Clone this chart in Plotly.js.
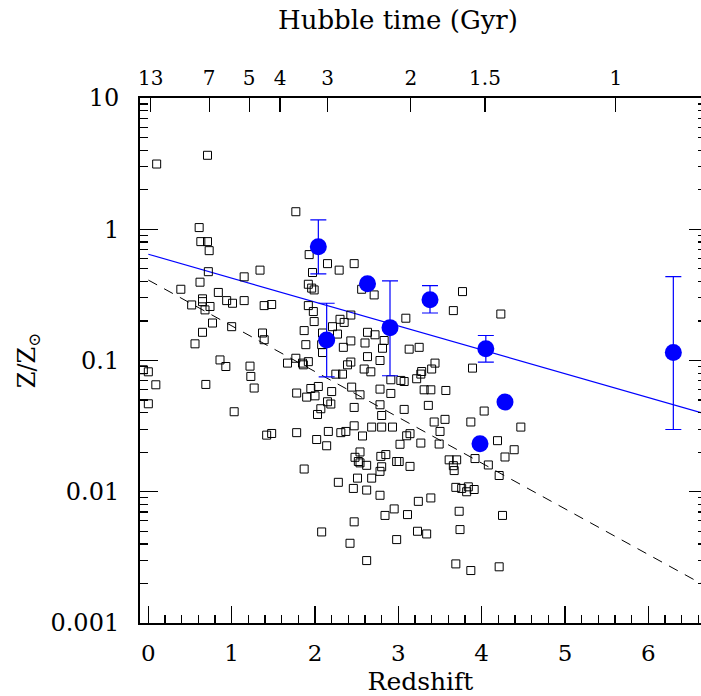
<!DOCTYPE html>
<html><head><meta charset="utf-8">
<script src="https://cdn.plot.ly/plotly-3.0.1.min.js"></script>
<style>html,body{margin:0;padding:0;background:#fff}</style>
</head><body><div id="chart" style="width:701px;height:696px"></div>
<script>
// Comparison sample (open squares)
const sampleZ = [0.10,0.71,1.77,0.61,0.63,0.71,0.73,1.93,2.15,2.29,2.47,1.97,0.72,1.34,1.15,0.62,1.92,1.96,0.39,
 0.84,1.99,2.56,2.71,0.52,0.65,0.65,0.74,0.68,0.94,1.01,1.15,1.39,1.48,1.92,1.98,1.99,0.77,0.65,1.00,0.56,1.37,1.39,1.87,2.21,2.30,2.35,2.43,2.09,2.27,2.63,2.72,2.83,2.43,2.34,2.60,2.81,1.89,2.08,2.09,3.09,3.13,
 0.86,0.93,1.22,1.23,1.27,0.69,-0.06,0.00,0.09,0.00,1.03,1.67,1.77,1.85,1.86,1.92,2.25,2.33,2.39,2.43,2.63,2.59,2.67,2.78,2.91,3.03,3.07,
 1.78,1.90,1.95,2.00,2.04,2.20,2.15,2.19,2.07,2.03,2.44,2.54,2.47,2.78,2.91,2.78,2.80,3.07,2.47,2.37,2.31,2.57,2.68,2.80,2.93,3.10,3.14,2.16,2.02,2.14,1.78,1.42,1.48,3.02,
 2.54,2.48,2.52,2.54,2.62,2.79,2.85,2.80,2.78,2.98,3.01,1.87,
 2.28,2.51,2.68,2.46,2.62,2.78,2.95,2.84,3.11,2.47,2.08,2.42,2.98,2.62,
 3.77,3.66,4.23,3.25,3.44,3.40,3.28,3.27,3.22,3.31,3.39,3.57,3.89,3.36,4.03,3.43,3.56,3.87,4.47,3.50,3.27,3.49,4.19,4.39,4.28,3.92,3.61,3.70,3.66,3.67,4.08,4.21,3.14,
 3.69,3.76,3.84,3.82,3.91,3.24,3.39,3.73,4.25,3.23,3.34,3.74,3.69,3.87,4.21];
const sampleMetal = [3.14,3.66,1.36,1.03,0.805,0.805,0.687,0.641,0.547,0.488,0.547,0.468,0.475,0.488,0.434,0.395,0.381,0.356,0.349,
 0.33,0.345,0.349,0.316,0.265,0.295,0.281,0.258,0.243,0.286,0.273,0.286,0.262,0.267,0.262,0.236,0.198,0.193,0.164,0.181,0.134,0.162,0.144,0.169,0.181,0.206,0.195,0.222,0.162,0.159,0.164,0.157,0.142,0.141,0.126,0.136,0.124,0.132,0.132,0.115,0.21,0.122,
 0.101,0.090,0.0906,0.0756,0.0617,0.0657,0.085,0.082,0.0653,0.0468,0.0407,0.0955,0.104,0.0955,0.0927,0.098,0.0787,0.0787,0.0927,0.0973,0.107,0.0861,0.082,0.100,0.0713,0.0705,0.0692,
 0.0565,0.0526,0.0612,0.0538,0.0634,0.058,0.0485,0.0466,0.0429,0.0388,0.0627,0.0548,0.0439,0.0605,0.0561,0.046,0.0381,0.0424,0.0318,0.0288,0.0282,0.0266,0.0311,0.0311,0.0311,0.0267,0.0277,0.0288,0.025,0.0224,0.0282,0.027,0.0278,0.023,
 0.0201,0.0183,0.017,0.0166,0.0159,0.0186,0.0192,0.0155,0.0143,0.017,0.017,0.0149,
 0.0118,0.0127,0.0127,0.0106,0.0103,0.0094,0.0074,0.0066,0.0067,0.0059,0.00494,0.00405,0.00432,0.00299,
 0.335,0.24,0.226,0.126,0.0955,0.0861,0.0824,0.0788,0.0726,0.0598,0.0598,0.0591,0.0875,0.0455,0.0412,0.034,0.0356,0.034,0.0311,0.0288,0.0235,0.0231,0.0245,0.0209,0.0184,0.0179,0.0175,0.0175,0.0158,0.0145,0.016,0.0133,0.0156,
 0.0108,0.0106,0.0109,0.0100,0.0104,0.00845,0.00897,0.0071,0.0066,0.0050,0.00477,0.00515,0.00282,0.00251,0.00268];

// Highlighted measurements (filled blue circles)
const detZ = [2.04, 2.14, 2.63, 2.90, 3.38, 3.98, 4.05, 4.28, 6.30];
const detMetal = [0.737, 0.1435, 0.384, 0.178, 0.29, 0.0232, 0.123, 0.0482, 0.115];
const detHigh = [1.18, 0.273, null, 0.404, 0.372, null, 0.155, null, 0.436];
const detLow = [0.457, 0.075, null, 0.0765, 0.23, null, 0.0973, null, 0.0298];

// Fit lines
const fitLineZ = [0, 6.632];
const fitLineMetal = [0.645, 0.0400];
const trendLineZ = [0, 6.632];
const trendLineMetal = [0.41, 0.00200];

// Axis ticks
const redshiftTicks = [0, 1, 2, 3, 4, 5, 6];
const hubbleTickZ = [0.03, 0.73, 1.21, 1.58, 2.15, 3.15, 4.04, 5.61];
const hubbleTickLabels = ['13', '7', '5', '4', '3', '2', '1.5', '1'];
const metalTickVals = [0.001, 0.01, 0.1, 1, 10];
const metalTickLabels = ['0.001', '0.01', '0.1', '1', '10'];

const minorMetal = [];
for (let d = -3; d < 1; d++) for (let m = 2; m <= 9; m++) minorMetal.push(m * Math.pow(10, d));

const errPlus = detMetal.map((v, i) => detHigh[i] == null ? 0 : detHigh[i] - v);
const errMinus = detMetal.map((v, i) => detLow[i] == null ? 0 : v - detLow[i]);

const FONT = 'DejaVu Serif';
const xRange = [-0.1, 6.632];
const yRange = [-3, 1];

const traces = [
  {x: trendLineZ, y: trendLineMetal, mode: 'lines', type: 'scatter',
   line: {color: '#000', width: 1, dash: '10px,8px'}, hoverinfo: 'skip'},
  {x: fitLineZ, y: fitLineMetal, mode: 'lines', type: 'scatter',
   line: {color: '#0000ff', width: 1.2}, hoverinfo: 'skip'},
  {x: sampleZ, y: sampleMetal, mode: 'markers', type: 'scatter',
   marker: {symbol: 'square-open', size: 8, color: '#000', line: {width: 1, color: '#000'}}},
  {x: detZ, y: detMetal, mode: 'markers', type: 'scatter',
   marker: {symbol: 'circle', size: 17, color: '#0000ff'},
   error_y: {type: 'data', symmetric: false, array: errPlus, arrayminus: errMinus,
     color: '#0000ff', thickness: 1.2, width: 8}},
  {x: [1], y: [1], xaxis: 'x2', yaxis: 'y2', mode: 'markers', marker: {opacity: 0}, hoverinfo: 'skip'}
];

const layout = {
  width: 701, height: 696,
  margin: {l: 140, r: 0, t: 98, b: 73},
  paper_bgcolor: '#fff', plot_bgcolor: '#fff',
  showlegend: false,
  font: {family: FONT, color: '#000', size: 22},
  xaxis: {
    range: xRange, showgrid: false, zeroline: false,
    showline: true, linecolor: '#000', linewidth: 2,
    tickmode: 'array', tickvals: redshiftTicks, ticktext: redshiftTicks.map(String),
    ticks: 'inside', ticklen: 17, tickwidth: 1.2, tickcolor: '#000',
    minor: {tickmode: 'linear', tick0: 0, dtick: 0.2, ticks: 'inside', ticklen: 8, tickwidth: 1.2, tickcolor: '#000'},
    tickfont: {family: FONT, size: 23}, ticklabelstandoff: 8,
    title: {text: 'Redshift', font: {family: FONT, size: 25}, standoff: 8}
  },
  xaxis2: {
    overlaying: 'x', side: 'top', anchor: 'y', range: xRange,
    showgrid: false, zeroline: false, showline: true, linecolor: '#000', linewidth: 2,
    tickmode: 'array', tickvals: hubbleTickZ, ticktext: hubbleTickLabels,
    ticks: 'inside', ticklen: 14, tickwidth: 1.2, tickcolor: '#000',
    tickfont: {family: FONT, size: 20}, ticklabelstandoff: 3
  },
  yaxis: {
    type: 'log', range: yRange, showgrid: false, zeroline: false,
    showline: true, linecolor: '#000', linewidth: 2,
    tickmode: 'array', tickvals: metalTickVals, ticktext: metalTickLabels,
    ticks: 'inside', ticklen: 18, tickwidth: 1.2, tickcolor: '#000',
    minor: {tickmode: 'array', tickvals: minorMetal, ticks: 'inside', ticklen: 8, tickwidth: 1.2, tickcolor: '#000'},
    tickfont: {family: FONT, size: 24}, ticklabelstandoff: 14,
    title: {text: 'Z/Z<sub>⊙</sub>', font: {family: FONT, size: 24}, standoff: 8}
  },
  yaxis2: {
    type: 'log', range: yRange, overlaying: 'y', side: 'right', anchor: 'x',
    showgrid: false, zeroline: false, showline: false,
    tickmode: 'array', tickvals: metalTickVals, showticklabels: false,
    ticks: 'inside', ticklen: 12, tickwidth: 1.2, tickcolor: '#000',
    minor: {tickmode: 'array', tickvals: minorMetal, ticks: 'inside', ticklen: 3, tickwidth: 1.2, tickcolor: '#000'}
  },
  annotations: [{
    text: 'Hubble time (Gyr)', xref: 'paper', yref: 'paper',
    x: 0.46, y: 1.1486, xanchor: 'center', yanchor: 'middle', showarrow: false,
    font: {family: FONT, size: 26, color: '#000'}
  }]
};

Plotly.newPlot('chart', traces, layout, {staticPlot: true, displayModeBar: false});
</script>
</body></html>
